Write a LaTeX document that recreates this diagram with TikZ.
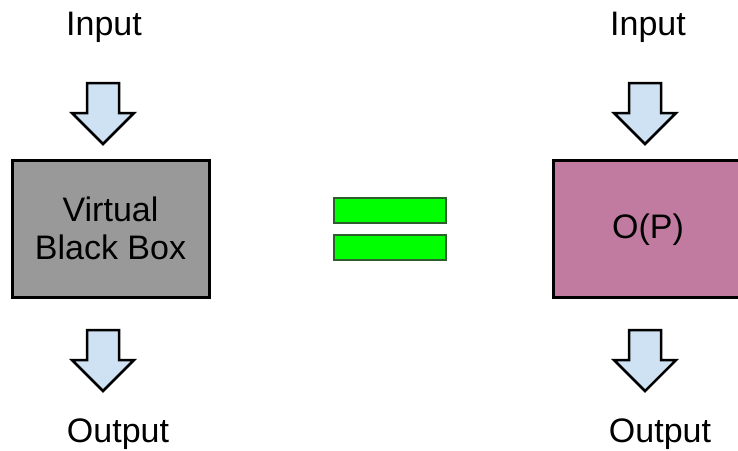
\documentclass[tikz,border=0pt]{standalone}
\usepackage{fontspec}
\setmainfont{Liberation Sans}
\definecolor{arrowblue}{HTML}{CFE2F3}
\definecolor{boxgray}{HTML}{999999}
\definecolor{boxpink}{HTML}{C27BA0}
\definecolor{eqgreen}{HTML}{00FF00}
\definecolor{eqborder}{HTML}{2E5E2E}
\begin{document}
\begin{tikzpicture}[x=1pt,y=-1pt,
  lbl/.style={font=\fontsize{34}{38}\selectfont, inner sep=0pt, anchor=base},
  blockbox/.style={draw=black, line width=3pt, inner sep=0pt},
  eqbar/.style={draw=eqborder, fill=eqgreen, line width=2pt},
  pics/downarrow/.style={code={
    \draw[fill=arrowblue, line width=2.5pt, line join=miter]
      (-16,0) -- (16,0) -- (16,30) -- (31,30) -- (0,61) -- (-31,30) -- (-16,30) -- cycle;
  }}]
\useasboundingbox (0,0) rectangle (738,450);
% left side
\node[lbl] (in1) at (104,35) {Input};
\pic at (103,83) {downarrow};
\node[blockbox, fill=boxgray, minimum width=197, minimum height=137, align=center,
      font=\fontsize{34}{38}\selectfont] (vbb) at (110.5,228.5) {Virtual\\Black Box};
\pic at (103,330) {downarrow};
\node[lbl] (out1) at (118,442) {Output};
% equal sign
\node[eqbar, minimum width=112, minimum height=25, inner sep=0pt] (eqtop) at (389.5,210) {};
\node[eqbar, minimum width=112, minimum height=25, inner sep=0pt] (eqbot) at (389.5,247.5) {};
% right side
\node[lbl] (in2) at (648,35) {Input};
\pic at (645,83) {downarrow};
\draw[blockbox, fill=boxpink] (553,160) rectangle (760,297);
\node[font=\fontsize{34}{38}\selectfont, inner sep=0pt] (op) at (648,230) {O(P)};
\pic at (645,330) {downarrow};
\node[lbl] (out2) at (660,442) {Output};
\end{tikzpicture}
\end{document}
